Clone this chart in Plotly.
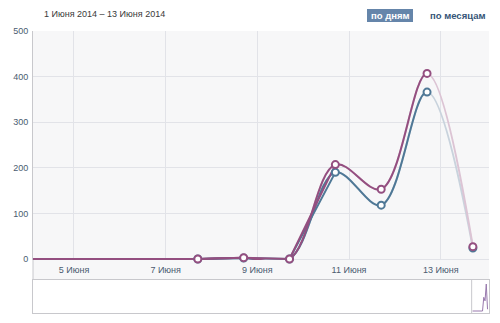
import plotly.graph_objects as go
import pandas as pd

# ---- data ----
dates = ["2014-06-01 16:50", "2014-06-02 16:50", "2014-06-03 16:50", "2014-06-04 16:50",
         "2014-06-05 16:50", "2014-06-06 16:50", "2014-06-07 16:50", "2014-06-08 16:50",
         "2014-06-09 16:50", "2014-06-10 16:50", "2014-06-11 16:50", "2014-06-12 16:50",
         "2014-06-13 16:50"]
series_purple = [0, 0, 0, 0, 0, 0, 0, 3, 0, 207, 153, 407, 27]
series_blue = [0, 0, 0, 0, 0, 0, 0, 2, 0, 190, 118, 366, 24]
show_marker = [0, 0, 0, 0, 0, 0, 1, 1, 1, 1, 1, 1, 1]
flat_until = 9  # index of last point of the flat (near-zero) stretch
tick_dates = ["2014-06-05", "2014-06-07", "2014-06-09", "2014-06-11", "2014-06-13"]
tick_labels = ["5 Июня", "7 Июня", "9 Июня", "11 Июня", "13 Июня"]
y_ticks = [0, 100, 200, 300, 400, 500]
title_text = "1 Июня 2014 – 13 Июня 2014"
btn_day = "по дням"
btn_month = "по месяцам"

PURPLE = "#944f80"
BLUE = "#4f7896"
PURPLE_F = "#dcc4d4"
BLUE_F = "#c9d3dd"
TXT = "#4a5b70"
FONT = "Liberation Sans"

H_PLOT = 282.0
x0 = pd.Timestamp("2014-06-04 02:33")
x1 = pd.Timestamp("2014-06-14 01:16")
solid_end = pd.Timestamp(dates[-2]) + pd.Timedelta(minutes=2)
d_solid = (solid_end - x0) / (x1 - x0)

y_min = -2.2
px_per_unit = 228 / 500.0
main_bottom = (313 - (259 + (-y_min) * px_per_unit)) / H_PLOT
nav_top = 33 / H_PLOT

fig = go.Figure()

# faded full curves (main axis)
for vals, col in [(series_blue, BLUE_F), (series_purple, PURPLE_F)]:
    fig.add_trace(go.Scatter(x=dates, y=vals, mode="lines",
                             line=dict(color=col, width=2, shape="spline", smoothing=1),
                             xaxis="x", yaxis="y", hoverinfo="skip", showlegend=False))
# last markers on main axis
for vals, col in [(series_blue, BLUE), (series_purple, PURPLE)]:
    fig.add_trace(go.Scatter(x=dates[-1:], y=vals[-1:], mode="markers",
                             marker=dict(size=7, color="white", line=dict(color=col, width=2)),
                             xaxis="x", yaxis="y", hoverinfo="skip", showlegend=False))

# solid curves clipped at last complete point
for vals, col in [(series_blue, BLUE), (series_purple, PURPLE)]:
    fig.add_trace(go.Scatter(x=dates, y=vals, mode="lines",
                             line=dict(color=col, width=2, shape="spline", smoothing=1),
                             xaxis="x2", yaxis="y", hoverinfo="skip", showlegend=False))
    fig.add_trace(go.Scatter(x=dates[:flat_until + 1], y=vals[:flat_until + 1], mode="lines",
                             line=dict(color=col, width=2),
                             xaxis="x2", yaxis="y", hoverinfo="skip", showlegend=False))
for vals, col in [(series_blue, BLUE), (series_purple, PURPLE)]:
    xs = [d for d, m in zip(dates[:-1], show_marker[:-1]) if m]
    ys = [v for v, m in zip(vals[:-1], show_marker[:-1]) if m]
    fig.add_trace(go.Scatter(x=xs, y=ys, mode="markers", cliponaxis=False,
                             marker=dict(size=7, color="white", line=dict(color=col, width=2)),
                             xaxis="x2", yaxis="y", hoverinfo="skip", showlegend=False))

# navigator
fig.add_trace(go.Scatter(x=dates, y=series_purple, mode="lines",
                         line=dict(color="#9879ad", width=1),
                         xaxis="x3", yaxis="y3", hoverinfo="skip", showlegend=False))

fig.update_layout(
    width=500, height=323,
    margin=dict(l=33, r=11, t=31, b=10, autoexpand=False),
    paper_bgcolor="white", plot_bgcolor="rgba(0,0,0,0)",
    font=dict(family=FONT, size=9, color=TXT),
    xaxis=dict(domain=[0, 1], range=[x0, x1], anchor="y", type="date", automargin=False,
               tickvals=tick_dates, ticktext=tick_labels,
               showgrid=True, gridcolor="#e2e3e8", gridwidth=1,
               zeroline=False, showline=False, ticks="", ticklabelstandoff=3,
               tickfont=dict(size=9, color=TXT, family=FONT)),
    xaxis2=dict(domain=[0, d_solid], range=[x0, solid_end], anchor="y", type="date",
                visible=False, showgrid=False, automargin=False),
    yaxis=dict(domain=[main_bottom, 1], range=[y_min, 500], anchor="x", automargin=False,
               tickvals=y_ticks, showgrid=True, gridcolor="#e2e3e8",
               zeroline=False, showline=True, linecolor="#c8c8cc", linewidth=1,
               ticks="", ticklabelstandoff=2, tickfont=dict(size=9, color=TXT, family=FONT)),
    xaxis3=dict(domain=[0, 1], range=["2013-06-15", "2014-06-14 21:00"], anchor="y3",
                type="date", showgrid=False, zeroline=False, showticklabels=False,
                automargin=False,
                showline=True, mirror=True, linecolor="#c8c8cc", ticks=""),
    yaxis3=dict(domain=[0, nav_top], range=[-30, 468], anchor="x3", automargin=False,
                showgrid=False, zeroline=False, showticklabels=False,
                showline=True, mirror=True, linecolor="#c8c8cc", ticks=""),
)

shapes = [
    dict(type="rect", xref="paper", yref="paper", x0=0, x1=1, y0=nav_top, y1=1,
         fillcolor="#f7f7f8", line=dict(width=0), layer="below"),
    dict(type="line", xref="paper", yref="paper", x0=0, x1=0, y0=nav_top, y1=main_bottom,
         line=dict(color="#c8c8cc", width=1)),
    dict(type="line", xref="x3", yref="paper", x0="2014-06-01", x1="2014-06-01", y0=0, y1=nav_top,
         line=dict(color="#c8c8cc", width=1)),
    dict(type="rect", xref="paper", yref="paper",
         x0=(367 - 33) / 456, x1=(413 - 33) / 456, y0=(313 - 22) / H_PLOT, y1=(313 - 9) / H_PLOT,
         fillcolor="#6585aa", line=dict(width=0)),
]
fig.update_layout(shapes=shapes)

annotations = [
    dict(text=title_text, xref="paper", yref="paper", x=(42 - 33) / 456, y=(313 - 14) / H_PLOT,
         xanchor="left", yanchor="middle", showarrow=False,
         font=dict(family=FONT, size=9, color="#3a3a3a")),
    dict(text="<b>" + btn_day + "</b>", xref="paper", yref="paper", x=(390 - 33) / 456,
         y=(313 - 15.5) / H_PLOT, xanchor="center", yanchor="middle", showarrow=False,
         font=dict(family=FONT, size=9.5, color="white")),
    dict(text="<b>" + btn_month + "</b>", xref="paper", yref="paper", x=(457.5 - 33) / 456,
         y=(313 - 15.5) / H_PLOT, xanchor="center", yanchor="middle", showarrow=False,
         font=dict(family=FONT, size=9.5, color="#365578")),
]
fig.update_layout(annotations=annotations)

fig.write_html("out.html")
